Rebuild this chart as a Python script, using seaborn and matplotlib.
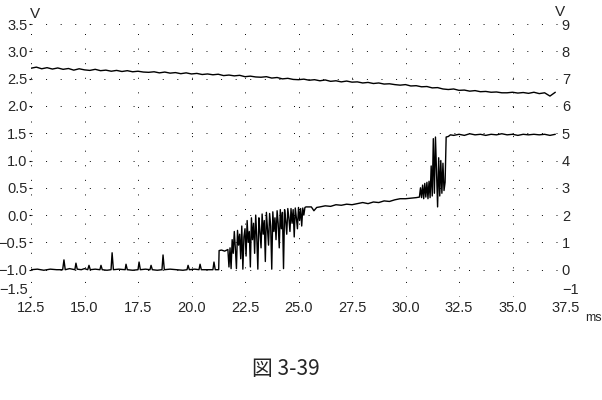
import numpy as np
import pandas as pd
import seaborn as sns
from matplotlib import pyplot as plt

# lower trace, left axis (V)
low_t = [12.5, 12.8, 13.1, 13.4, 13.7, 13.98, 14.04, 14.1, 14.3, 14.55, 14.6, 14.66, 14.85, 15.0, 15.15,
         15.21, 15.27, 15.5, 15.72, 15.77, 15.83, 16.05, 16.24, 16.29, 16.35, 16.6, 16.9, 16.94, 17.0,
         17.25, 17.5, 17.55, 17.61, 17.85, 18.06, 18.11, 18.17, 18.4, 18.62, 18.67, 18.73, 19.0, 19.3,
         19.6, 19.79, 19.84, 19.9, 20.15, 20.35, 20.4, 20.46, 20.7, 21.0, 21.05, 21.11, 21.27,
         21.29, 21.4, 21.55, 21.7,
         21.75, 21.8, 21.85, 21.9, 21.95, 22.0, 22.05, 22.1, 22.15, 22.2, 22.25, 22.3, 22.35, 22.4,
         22.45, 22.5, 22.55, 22.6, 22.65, 22.7, 22.75, 22.8, 22.85, 22.9, 22.95, 23.0, 23.05, 23.1,
         23.15, 23.2, 23.25, 23.3, 23.35, 23.4, 23.45, 23.5, 23.55, 23.6, 23.65, 23.7, 23.75, 23.8,
         23.85, 23.9, 23.95, 24.0, 24.05, 24.1, 24.15, 24.2, 24.25, 24.3, 24.35, 24.4, 24.45, 24.5,
         24.55, 24.6, 24.65, 24.7, 24.75, 24.8, 24.85, 24.9, 24.95, 25.0, 25.05, 25.1, 25.15, 25.2,
         25.25, 25.3,
         25.35, 25.6, 25.72, 25.85, 26.0, 26.25, 26.5, 26.75, 27.0, 27.25, 27.5, 27.75, 28.0, 28.25,
         28.5, 28.75, 29.0, 29.25, 29.5, 29.75, 30.0, 30.25,
         30.5, 30.65, 30.7, 30.75, 30.8, 30.85, 30.9, 30.95, 31.0, 31.05, 31.1, 31.15, 31.2, 31.25,
         31.3, 31.35, 31.4, 31.45, 31.5, 31.55, 31.6, 31.65, 31.7, 31.75, 31.8, 31.85, 31.9, 32.0,
         32.1, 32.25,
         32.5, 32.75, 33.0, 33.25, 33.5, 33.75, 34.0, 34.25, 34.5, 34.75, 35.0, 35.25, 35.5, 35.75,
         36.0, 36.25, 36.5, 36.75, 37.0]
low_v = [-1.00, -0.99, -1.01, -0.99, -1.00, -1.00, -0.82, -1.00, -0.98, -1.00, -0.88, -0.99, -1.00, -0.98, -1.00,
         -0.92, -1.00, -0.99, -1.00, -0.92, -1.00, -1.01, -1.00, -0.69, -1.00, -0.99, -1.00, -0.90, -1.00,
         -1.01, -1.00, -0.86, -1.00, -0.99, -1.00, -0.92, -1.00, -1.01, -1.00, -0.73, -1.00, -0.99, -1.00,
         -1.01, -1.00, -0.92, -1.00, -0.99, -1.00, -0.90, -1.00, -1.00, -1.00, -0.86, -1.00, -1.00,
         -0.65, -0.64, -0.66, -0.63,
         -0.95, -0.60, -0.98, -0.45, -0.70, -0.30, -0.62, -0.98, -0.28, -0.55, -0.35, -0.80, -0.20, -0.99,
         -0.40, -0.25, -0.75, -0.10, -0.50, -0.30, -0.95, -0.05, -0.45, -0.15, -0.70, 0.00, -0.40, -0.99,
         -0.05, -0.30, -0.60, 0.02, -0.35, -0.10, -0.85, 0.05, -0.25, -0.55, 0.03, -0.20, -0.99, 0.06,
         -0.30, -0.05, -0.45, 0.08, -0.15, -0.60, 0.10, -0.25, 0.05, -0.98, 0.10, -0.10, -0.35, 0.12,
         -0.05, -0.30, 0.12, -0.15, 0.10, -0.40, 0.13, -0.05, -0.25, 0.14, -0.10, 0.12, -0.20, 0.13,
         0.00, 0.14,
         0.15, 0.15, 0.08, 0.14, 0.15, 0.17, 0.16, 0.19, 0.18, 0.20, 0.19, 0.21, 0.23, 0.21,
         0.24, 0.23, 0.26, 0.25, 0.28, 0.30, 0.30, 0.31,
         0.32, 0.33, 0.50, 0.32, 0.55, 0.30, 0.58, 0.33, 0.60, 0.30, 0.62, 0.32, 0.90, 0.35,
         1.40, 0.40, 1.43, 0.80, 0.15, 1.05, 0.35, 1.00, 0.40, 0.95, 0.45, 0.60, 1.43, 1.44,
         1.47, 1.46,
         1.48, 1.46, 1.49, 1.47, 1.48, 1.46, 1.48, 1.47, 1.49, 1.47, 1.48, 1.46, 1.48, 1.47,
         1.48, 1.47, 1.48, 1.46, 1.48]

# upper trace, right axis (V), one sample every 0.25 ms
high_t = [12.5, 12.75, 13.0, 13.25, 13.5, 13.75, 14.0, 14.25, 14.5, 14.75, 15.0, 15.25, 15.5, 15.75,
          16.0, 16.25, 16.5, 16.75, 17.0, 17.25, 17.5, 17.75, 18.0, 18.25, 18.5, 18.75, 19.0, 19.25,
          19.5, 19.75, 20.0, 20.25, 20.5, 20.75, 21.0, 21.25, 21.5, 21.75, 22.0, 22.25, 22.5, 22.75,
          23.0, 23.25, 23.5, 23.75, 24.0, 24.25, 24.5, 24.75, 25.0, 25.25, 25.5, 25.75, 26.0, 26.25,
          26.5, 26.75, 27.0, 27.25, 27.5, 27.75, 28.0, 28.25, 28.5, 28.75, 29.0, 29.25, 29.5, 29.75,
          30.0, 30.25, 30.5, 30.75, 31.0, 31.25, 31.5, 31.75, 32.0, 32.25, 32.5, 32.75, 33.0, 33.25,
          33.5, 33.75, 34.0, 34.25, 34.5, 34.75, 35.0, 35.25, 35.5, 35.75, 36.0, 36.25, 36.5, 36.75,
          37.0]
high_v = [7.38, 7.42, 7.36, 7.40, 7.35, 7.39, 7.34, 7.37, 7.31, 7.36, 7.32, 7.30, 7.34, 7.29, 7.31, 7.27, 7.30,
          7.26, 7.29, 7.25, 7.27, 7.24, 7.23, 7.25, 7.21, 7.24, 7.20, 7.22, 7.18, 7.21, 7.17, 7.19, 7.15, 7.17, 7.14,
          7.16, 7.11, 7.13, 7.10, 7.12, 7.07, 7.09, 7.06, 7.05, 7.07, 7.02, 7.04, 6.99, 7.01, 6.97, 6.96,
          6.98, 6.94, 6.96, 6.92, 6.95, 6.90, 6.92, 6.88, 6.91, 6.87, 6.88, 6.84, 6.86, 6.82, 6.84, 6.80, 6.81, 6.78, 6.76,
          6.78, 6.73, 6.74, 6.70, 6.71, 6.66, 6.67, 6.62, 6.60,
          6.62, 6.57, 6.58, 6.54, 6.56, 6.52, 6.53, 6.50, 6.51, 6.48, 6.48,
          6.50, 6.47, 6.49, 6.46, 6.50, 6.45, 6.48, 6.36, 6.50]

x_ticks = [12.5, 15.0, 17.5, 20.0, 22.5, 25.0, 27.5, 30.0, 32.5, 35.0, 37.5]
left_ticks = [-1.5, -1.0, -0.5, 0.0, 0.5, 1.0, 1.5, 2.0, 2.5, 3.0, 3.5]
right_ticks = [-1, 0, 1, 2, 3, 4, 5, 6, 7, 8, 9]

sns.set_style("white")
plt.rcParams["font.family"] = ["Liberation Sans", "DejaVu Sans"]

fig = plt.figure(figsize=(6.02, 4.0), dpi=100)
ax = fig.add_axes([31 / 602, 1 - 297 / 400, 535 / 602, 273 / 400])
ax2 = ax.twinx()

low = pd.DataFrame({"t": low_t, "v": low_v})
high = pd.DataFrame({"t": high_t, "v": high_v})
sns.lineplot(low, x="t", y="v", ax=ax, color="black", lw=1.0, estimator=None, sort=False)
sns.lineplot(high, x="t", y="v", ax=ax2, color="black", lw=1.0, estimator=None, sort=False)

ax.set(xlim=(12.5, 37.5), ylim=(-1.5, 3.5), xlabel="", ylabel="")
ax2.set(ylim=(-1, 9), xlabel="", ylabel="")
ax.set_xticks(x_ticks)
ax.set_xticklabels([f"{v:.1f}" for v in x_ticks])
ax.set_yticks(left_ticks)
ax.set_yticklabels([f"{v:.1f}".replace("-", "\u2212") for v in left_ticks])
ax2.set_yticks(right_ticks)
ax2.set_yticklabels([str(v).replace("-", "\u2212") for v in right_ticks])

ax.grid(True, color="black", lw=0.7, linestyle=(0, (1, 14)))
for a in (ax, ax2):
    for s in a.spines.values():
        s.set_visible(False)
ax.tick_params(axis="x", length=0, pad=3, labelsize=10.5)
ax.tick_params(axis="y", length=1.5, width=0.8, pad=1, labelsize=10.5, color="black")
ax2.tick_params(axis="y", length=0, pad=-3, labelsize=10.5)

# lowest y labels sit just above the x labels, as on the scope print
ax.get_yticklabels()[0].set_va("bottom")
ax2.get_yticklabels()[0].set_va("bottom")

fig.text(30 / 602, 1 - 14 / 400, "V", fontsize=11, ha="left", va="center")
fig.text(560 / 602, 1 - 12 / 400, "V", fontsize=11, ha="center", va="center")
fig.text(585 / 602, 1 - 318 / 400, "ms", fontsize=9, ha="left", va="center")
fig.text(286 / 602, 1 - 369 / 400, "図 3-39", fontsize=15, ha="center", va="center",
         family=["Noto Sans CJK JP", "DejaVu Sans"])

fig.savefig("out.png", dpi=100)
